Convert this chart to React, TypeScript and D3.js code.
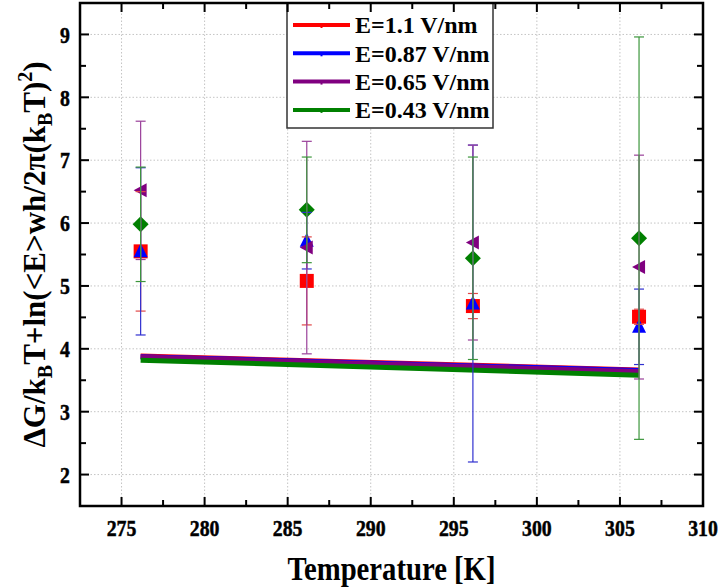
import React from "react";
import * as d3 from "d3";

const temps = [276.15, 286.15, 296.15, 306.15];
const redVals = [5.55, 5.08, 4.68, 4.51];
const redErr = [0.95, 0.7, 0.2, 0.12];
const blueVals = [5.55, 5.72, 4.72, 4.35];
const blueErr = [1.33, 0.45, 2.52, 0.6];
const purpleVals = [6.52, 5.61, 5.69, 5.3];
const purpleErr = [1.1, 1.69, 1.55, 1.78];
const greenVals = [5.98, 6.21, 5.44, 5.76];
const greenErr = [0.91, 0.84, 1.61, 3.2];

const fitT = [276.15, 306.15];
const redFit = [3.885, 3.665];
const blueFit = [3.875, 3.655];
const purpleFit = [3.87, 3.64];
const greenFit = [3.82, 3.58];

const legendLabels = ["E=1.1 V/nm", "E=0.87 V/nm", "E=0.65 V/nm", "E=0.43 V/nm"];
const xTicks = [275, 280, 285, 290, 295, 300, 305, 310];
const yTicks = [2, 3, 4, 5, 6, 7, 8, 9];

const W = 721;
const H = 588;
const L = 80, R = 703, T = 3, B = 506;
const FONT = "'Liberation Serif', 'Times New Roman', serif";

type Series = { vals: number[]; err: number[]; fit: number[]; color: string; barColor: string; shape: string };

const series: Series[] = [
  { vals: redVals, err: redErr, fit: redFit, color: "#ff0000", barColor: "#e04848", shape: "square" },
  { vals: blueVals, err: blueErr, fit: blueFit, color: "#0000ff", barColor: "#3030d0", shape: "triangleUp" },
  { vals: purpleVals, err: purpleErr, fit: purpleFit, color: "#800080", barColor: "#9a409a", shape: "triangleLeft" },
  { vals: greenVals, err: greenErr, fit: greenFit, color: "#008000", barColor: "#3c963c", shape: "diamond" },
];

function marker(shape: string, cx: number, cy: number, color: string, key: string) {
  const s = 7;
  if (shape === "square") return <rect key={key} x={cx - s} y={cy - s} width={2 * s} height={2 * s} fill={color} />;
  if (shape === "triangleUp")
    return <path key={key} d={`M${cx},${cy - s - 1}L${cx + s},${cy + s - 1}L${cx - s},${cy + s - 1}Z`} fill={color} />;
  if (shape === "triangleLeft")
    return <path key={key} d={`M${cx - s},${cy}L${cx + s - 1},${cy - s}L${cx + s - 1},${cy + s}Z`} fill={color} />;
  return <path key={key} d={`M${cx},${cy - s - 1}L${cx + s + 1},${cy}L${cx},${cy + s + 1}L${cx - s - 1},${cy}Z`} fill={color} />;
}

export default function App() {
  const x = d3.scaleLinear().domain([272.5, 310]).range([L, R]);
  const y = d3.scaleLinear().domain([1.5, 9.5]).range([B, T]);
  const xMinor = d3.range(272.5, 310.01, 2.5);
  const yMinor = d3.range(1.5, 9.51, 0.5);
  const lineGen = d3.line<[number, number]>().x((d) => x(d[0])).y((d) => y(d[1]));

  return (
    <svg width={W} height={H} style={{ position: "absolute", left: 0, top: 0, background: "#fff" }} fontFamily={FONT}>
      <rect x={0} y={0} width={W} height={H} fill="#fff" />
      {/* grid */}
      {xTicks.filter((t) => t < 310).map((t) => (
        <line key={"gx" + t} x1={x(t)} x2={x(t)} y1={T} y2={B} stroke="#c4c4c4" strokeWidth={1} strokeDasharray="1.5,2" />
      ))}
      {yTicks.map((t) => (
        <line key={"gy" + t} x1={L} x2={R} y1={y(t)} y2={y(t)} stroke="#c4c4c4" strokeWidth={1} strokeDasharray="1.5,2" />
      ))}
      {/* fit lines */}
      {series.map((s, i) => (
        <path key={"fit" + i} d={lineGen(fitT.map((t, j) => [t, s.fit[j]] as [number, number])) || ""} stroke={s.color} strokeWidth={5} fill="none" />
      ))}
      {/* markers */}
      {series.map((s, i) => s.vals.map((v, j) => marker(s.shape, x(temps[j]), y(v), s.color, `m${i}-${j}`)))}
      {/* error bars */}
      {series.map((s, i) =>
        s.vals.map((v, j) => {
          const cx = x(temps[j]);
          const y1 = y(v + s.err[j]);
          const y2 = y(v - s.err[j]);
          return (
            <g key={`e${i}-${j}`} stroke={s.barColor} strokeWidth={1.2}>
              <line x1={cx} x2={cx} y1={y1} y2={y2} />
              <line x1={cx - 5} x2={cx + 5} y1={y1} y2={y1} />
              <line x1={cx - 5} x2={cx + 5} y1={y2} y2={y2} />
            </g>
          );
        })
      )}
      {/* legend */}
      <rect x={287} y={T} width={206} height={125} fill="#fff" stroke="#333" strokeWidth={1.5} />
      {legendLabels.map((lab, i) => {
        const ly = 25 + i * 28.3;
        return (
          <g key={"lg" + i}>
            <line x1={293} x2={350} y1={ly} y2={ly} stroke={series[i].color} strokeWidth={4} />
            <line x1={321.5} x2={321.5} y1={ly - 1} y2={ly + 3} stroke={series[i].color} strokeWidth={2} />
            <text x={355} y={ly} dy="0.35em" fontSize={24} fontWeight="bold" fontFamily={FONT} fill="#000">{lab}</text>
          </g>
        );
      })}
      {/* axes frame */}
      <rect x={L} y={T} width={R - L} height={B - T} fill="none" stroke="#000" strokeWidth={2.5} />
      {xMinor.map((t) => {
        const major = Math.abs(t / 5 - Math.round(t / 5)) < 1e-6;
        const len = major ? 9 : 6;
        return (
          <g key={"xt" + t} stroke="#000" strokeWidth={2}>
            <line x1={x(t)} x2={x(t)} y1={B} y2={B - len} />
            <line x1={x(t)} x2={x(t)} y1={T} y2={T + len} />
          </g>
        );
      })}
      {yMinor.map((t) => {
        const major = Math.abs(t - Math.round(t)) < 1e-6;
        const len = major ? 9 : 6;
        return (
          <g key={"yt" + t} stroke="#000" strokeWidth={2}>
            <line x1={L} x2={L + len} y1={y(t)} y2={y(t)} />
            <line x1={R} x2={R - len} y1={y(t)} y2={y(t)} />
          </g>
        );
      })}
      {xTicks.map((t) => (
        <g key={"xl" + t} transform={`translate(${x(t)}, 536) scale(0.86, 1)`}>
          <text x={0} y={0} textAnchor="middle" fontSize={23} fontWeight="bold" fontFamily={FONT} fill="#000" stroke="#000" strokeWidth={0.5}>{t}</text>
        </g>
      ))}
      {yTicks.map((t) => (
        <g key={"yl" + t} transform={`translate(70, ${y(t)}) scale(0.86, 1)`}>
          <text x={0} y={0} dy="0.36em" textAnchor="end" fontSize={23} fontWeight="bold" fontFamily={FONT} fill="#000" stroke="#000" strokeWidth={0.5}>{t}</text>
        </g>
      ))}
      <g transform={`translate(${(L + R) / 2}, 580) scale(0.87, 1)`}>
        <text x={0} y={0} textAnchor="middle" fontSize={33} fontWeight="bold" fontFamily={FONT} fill="#000">Temperature [K]</text>
      </g>
      <text transform={`translate(45, ${(T + B) / 2}) rotate(-90)`} textAnchor="middle" fontSize={31} fontWeight="bold" fontFamily={FONT} fill="#000">
        <tspan>ΔG/k</tspan>
        <tspan fontSize={20} dy={7}>B</tspan>
        <tspan dy={-7}>T+ln(&lt;E&gt;wh/2π(k</tspan>
        <tspan fontSize={20} dy={7}>B</tspan>
        <tspan dy={-7}>T)</tspan>
        <tspan fontSize={20} dy={-13}>2</tspan>
        <tspan dy={13}>)</tspan>
      </text>
    </svg>
  );
}
